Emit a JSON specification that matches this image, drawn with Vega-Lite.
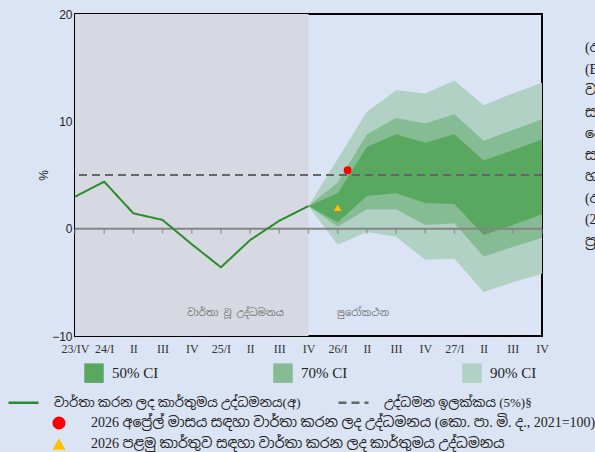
{
  "$schema": "https://vega.github.io/schema/vega-lite/v6.json",
  "width": 467,
  "height": 322,
  "autosize": {"type": "none"},
  "padding": {"left": 75, "top": 14, "right": 53, "bottom": 116},
  "background": "#dbe4f4",
  "config": {
    "view": {"stroke": "#000000", "strokeWidth": 2, "fill": "#dbe4f4"},
    "axis": {"domain": false, "grid": false, "ticks": false, "labelFlush": false, "labelOverlap": false},
    "axisX": {"labelFont": "Liberation Serif", "labelFontSize": 12, "labelColor": "#333333", "labelPadding": 7},
    "axisY": {"labelFont": "Liberation Sans", "labelFontSize": 12, "labelColor": "#222222", "labelPadding": 3, "titleFont": "Liberation Sans", "titleFontSize": 12, "titleFontWeight": "normal", "titleColor": "#222222", "titlePadding": 1},
    "legend": {"padding": 0, "labelLimit": 700, "titlePadding": 0}
  },
  "datasets": {
    "q": [
      {"q": 0, "actual": 2.98},
      {"q": 1, "actual": 4.38},
      {"q": 2, "actual": 1.43},
      {"q": 3, "actual": 0.81},
      {"q": 4, "actual": -1.45},
      {"q": 5, "actual": -3.6},
      {"q": 6, "actual": -1.06},
      {"q": 7, "actual": 0.74},
      {"q": 8, "actual": 2.11, "lo90": 2.11, "lo70": 2.11, "lo50": 2.11, "hi50": 2.11, "hi70": 2.11, "hi90": 2.11},
      {"q": 9, "lo90": -1.5, "lo70": 0.2, "lo50": 0.6, "hi50": 3.3, "hi70": 4.3, "hi90": 6.5},
      {"q": 10, "lo90": -0.3, "lo70": 1.8, "lo50": 3.05, "hi50": 7.6, "hi70": 8.8, "hi90": 10.9},
      {"q": 11, "lo90": -0.75, "lo70": 1.8, "lo50": 3.3, "hi50": 8.8, "hi70": 10.3, "hi90": 12.9},
      {"q": 12, "lo90": -2.9, "lo70": 0.35, "lo50": 2.4, "hi50": 8.0, "hi70": 9.8, "hi90": 12.6},
      {"q": 13, "lo90": -2.8, "lo70": 0.5, "lo50": 2.3, "hi50": 8.8, "hi70": 10.65, "hi90": 13.8},
      {"q": 14, "lo90": -5.9, "lo70": -2.6, "lo50": -0.6, "hi50": 6.35, "hi70": 8.2, "hi90": 11.5},
      {"q": 15, "lo90": -5.0, "lo70": -1.7, "lo50": 0.35, "hi50": 7.3, "hi70": 9.2, "hi90": 12.6},
      {"q": 16, "lo90": -4.2, "lo70": -0.84, "lo50": 1.34, "hi50": 8.3, "hi70": 10.2, "hi90": 13.6}
    ],
    "pts": [
      {"q": 9.34, "v": 5.45, "kind": "2026 අප්‍රේල් මාසය සඳහා වාර්තා කරන ලද උද්ධමනය (කො. පා. මි. ද., 2021=100)"},
      {"q": 9, "v": 1.96, "kind": "2026 පළමු කාර්තුව සඳහා වාර්තා කරන ලද කාර්තුමය උද්ධමනය"}
    ]
  },
  "layer": [
    {
      "data": {"values": [{}]},
      "mark": {"type": "rect", "fill": "#d6d9e2"},
      "encoding": {
        "x": {
          "datum": 0, "type": "quantitative",
          "scale": {"domain": [0, 16], "nice": false, "zero": false},
          "axis": {"title": null, "values": [0, 1, 2, 3, 4, 5, 6, 7, 8, 9, 10, 11, 12, 13, 14, 15, 16], "labelExpr": "['23/IV','24/I','II','III','IV','25/I','II','III','IV','26/I','II','III','IV','27/I','II','III','IV'][datum.value]"}
        },
        "x2": {"datum": 8}
      }
    },
    {
      "data": {"name": "q"},
      "transform": [{"filter": "isValid(datum.hi90)"}],
      "mark": {"type": "area", "opacity": 1},
      "encoding": {
        "x": {"field": "q", "type": "quantitative", "axis": {"title": null, "values": [0, 1, 2, 3, 4, 5, 6, 7, 8, 9, 10, 11, 12, 13, 14, 15, 16], "labelExpr": "['23/IV','24/I','II','III','IV','25/I','II','III','IV','26/I','II','III','IV','27/I','II','III','IV'][datum.value]"}},
        "y": {
          "field": "lo90", "type": "quantitative",
          "scale": {"domain": [-10, 20], "nice": false, "zero": false},
          "axis": {"title": "%", "values": [-10, 0, 10, 20]}
        },
        "y2": {"field": "hi90"},
        "fill": {
          "datum": "90% CI", "type": "nominal",
          "scale": {"domain": ["50% CI", "70% CI", "90% CI"], "range": ["#59a85f", "#85bc93", "#b0d1c4"]},
          "legend": {
            "orient": "none", "legendX": 9, "legendY": 349,
            "direction": "horizontal", "title": null,
            "symbolType": "square", "symbolSize": 380, "symbolStrokeWidth": 0, "symbolOpacity": 1,
            "labelFont": "Liberation Serif", "labelFontSize": 15, "labelColor": "#222222",
            "labelOffset": 8, "columnPadding": 114
          }
        }
      }
    },
    {
      "data": {"name": "q"},
      "transform": [{"filter": "isValid(datum.hi70)"}],
      "mark": {"type": "area", "opacity": 1},
      "encoding": {
        "x": {"field": "q", "type": "quantitative", "axis": {"title": null, "values": [0, 1, 2, 3, 4, 5, 6, 7, 8, 9, 10, 11, 12, 13, 14, 15, 16], "labelExpr": "['23/IV','24/I','II','III','IV','25/I','II','III','IV','26/I','II','III','IV','27/I','II','III','IV'][datum.value]"}},
        "y": {"field": "lo70", "type": "quantitative", "axis": {"title": "%", "values": [-10, 0, 10, 20]}},
        "y2": {"field": "hi70"},
        "fill": {"datum": "70% CI", "type": "nominal"}
      }
    },
    {
      "data": {"name": "q"},
      "transform": [{"filter": "isValid(datum.hi50)"}],
      "mark": {"type": "area", "opacity": 1},
      "encoding": {
        "x": {"field": "q", "type": "quantitative", "axis": {"title": null, "values": [0, 1, 2, 3, 4, 5, 6, 7, 8, 9, 10, 11, 12, 13, 14, 15, 16], "labelExpr": "['23/IV','24/I','II','III','IV','25/I','II','III','IV','26/I','II','III','IV','27/I','II','III','IV'][datum.value]"}},
        "y": {"field": "lo50", "type": "quantitative", "axis": {"title": "%", "values": [-10, 0, 10, 20]}},
        "y2": {"field": "hi50"},
        "fill": {"datum": "50% CI", "type": "nominal"}
      }
    },
    {
      "data": {"values": [{}]},
      "mark": {"type": "rule", "color": "#858585", "strokeWidth": 2},
      "encoding": {"y": {"datum": 0, "type": "quantitative", "axis": {"title": "%", "values": [-10, 0, 10, 20]}}}
    },
    {
      "data": {"name": "q"},
      "mark": {"type": "tick", "orient": "vertical", "color": "#858585", "size": 5, "thickness": 1.5, "yOffset": 2.5},
      "encoding": {
        "x": {"field": "q", "type": "quantitative", "axis": {"title": null, "values": [0, 1, 2, 3, 4, 5, 6, 7, 8, 9, 10, 11, 12, 13, 14, 15, 16], "labelExpr": "['23/IV','24/I','II','III','IV','25/I','II','III','IV','26/I','II','III','IV','27/I','II','III','IV'][datum.value]"}},
        "y": {"datum": 0, "type": "quantitative", "axis": {"title": "%", "values": [-10, 0, 10, 20]}}
      }
    },
    {
      "data": {"values": [{}]},
      "mark": {"type": "rule", "strokeWidth": 2},
      "encoding": {
        "y": {"datum": 5, "type": "quantitative", "axis": {"title": "%", "values": [-10, 0, 10, 20]}},
        "stroke": {
          "datum": "උද්ධමන ඉලක්කය (5%)§", "type": "nominal",
          "scale": {"domain": ["වාර්තා කරන ලද කාර්තුමය උද්ධමනය(අ)", "උද්ධමන ඉලක්කය (5%)§"], "range": ["#2b8c2b", "#666666"]},
          "legend": {
            "orient": "none", "legendX": -68, "legendY": 372,
            "direction": "horizontal", "title": null,
            "symbolType": "stroke", "symbolSize": 900, "symbolStrokeWidth": 2.5,
            "labelFont": "Liberation Serif, Noto Sans Sinhala", "labelFontSize": 13, "labelColor": "#222222",
            "labelOffset": 14, "columnPadding": 32
          }
        },
        "strokeDash": {
          "datum": "උද්ධමන ඉලක්කය (5%)§", "type": "nominal",
          "scale": {"domain": ["වාර්තා කරන ලද කාර්තුමය උද්ධමනය(අ)", "උද්ධමන ඉලක්කය (5%)§"], "range": [[1, 0], [8, 5]]},
          "legend": {
            "orient": "none", "legendX": -68, "legendY": 372,
            "direction": "horizontal", "title": null,
            "symbolType": "stroke", "symbolSize": 900, "symbolStrokeWidth": 2.5,
            "labelFont": "Liberation Serif, Noto Sans Sinhala", "labelFontSize": 13, "labelColor": "#222222",
            "labelOffset": 14, "columnPadding": 32
          }
        }
      }
    },
    {
      "data": {"name": "q"},
      "transform": [{"filter": "isValid(datum.actual)"}],
      "mark": {"type": "line", "strokeWidth": 2},
      "encoding": {
        "x": {"field": "q", "type": "quantitative", "axis": {"title": null, "values": [0, 1, 2, 3, 4, 5, 6, 7, 8, 9, 10, 11, 12, 13, 14, 15, 16], "labelExpr": "['23/IV','24/I','II','III','IV','25/I','II','III','IV','26/I','II','III','IV','27/I','II','III','IV'][datum.value]"}},
        "y": {"field": "actual", "type": "quantitative", "axis": {"title": "%", "values": [-10, 0, 10, 20]}},
        "stroke": {"datum": "වාර්තා කරන ලද කාර්තුමය උද්ධමනය(අ)", "type": "nominal"},
        "strokeDash": {"datum": "වාර්තා කරන ලද කාර්තුමය උද්ධමනය(අ)", "type": "nominal"}
      }
    },
    {
      "data": {"name": "pts"},
      "mark": {"type": "point", "filled": true, "opacity": 1, "size": 60},
      "encoding": {
        "x": {"field": "q", "type": "quantitative", "axis": {"title": null, "values": [0, 1, 2, 3, 4, 5, 6, 7, 8, 9, 10, 11, 12, 13, 14, 15, 16], "labelExpr": "['23/IV','24/I','II','III','IV','25/I','II','III','IV','26/I','II','III','IV','27/I','II','III','IV'][datum.value]"}},
        "y": {"field": "v", "type": "quantitative", "axis": {"title": "%", "values": [-10, 0, 10, 20]}},
        "color": {
          "field": "kind", "type": "nominal",
          "scale": {"domain": ["2026 අප්‍රේල් මාසය සඳහා වාර්තා කරන ලද උද්ධමනය (කො. පා. මි. ද., 2021=100)", "2026 පළමු කාර්තුව සඳහා වාර්තා කරන ලද කාර්තුමය උද්ධමනය"], "range": ["#ff0000", "#ffc000"]},
          "legend": {
            "orient": "none", "legendX": -23, "legendY": 402,
            "direction": "vertical", "title": null,
            "symbolSize": 170, "symbolStrokeWidth": 0,
            "labelFont": "Liberation Serif, Noto Sans Sinhala", "labelFontSize": 14, "labelColor": "#222222",
            "labelOffset": 25, "rowPadding": 7
          }
        },
        "shape": {
          "field": "kind", "type": "nominal",
          "scale": {"domain": ["2026 අප්‍රේල් මාසය සඳහා වාර්තා කරන ලද උද්ධමනය (කො. පා. මි. ද., 2021=100)", "2026 පළමු කාර්තුව සඳහා වාර්තා කරන ලද කාර්තුමය උද්ධමනය"], "range": ["circle", "triangle-up"]},
          "legend": {
            "orient": "none", "legendX": -23, "legendY": 402,
            "direction": "vertical", "title": null,
            "symbolSize": 170, "symbolStrokeWidth": 0,
            "labelFont": "Liberation Serif, Noto Sans Sinhala", "labelFontSize": 14, "labelColor": "#222222",
            "labelOffset": 25, "rowPadding": 7
          }
        }
      }
    },
    {
      "data": {"values": [{}]},
      "mark": {"type": "text", "text": "වාර්තා වූ උද්ධමනය", "font": "Noto Sans Sinhala, Liberation Serif", "fontSize": 10, "color": "#777777"},
      "encoding": {
        "x": {"datum": 5.5, "type": "quantitative", "axis": {"title": null, "values": [0, 1, 2, 3, 4, 5, 6, 7, 8, 9, 10, 11, 12, 13, 14, 15, 16], "labelExpr": "['23/IV','24/I','II','III','IV','25/I','II','III','IV','26/I','II','III','IV','27/I','II','III','IV'][datum.value]"}},
        "y": {"datum": -7.86, "type": "quantitative", "axis": {"title": "%", "values": [-10, 0, 10, 20]}}
      }
    },
    {
      "data": {"values": [{}]},
      "mark": {"type": "text", "text": "පුරෝකථන", "font": "Noto Sans Sinhala, Liberation Serif", "fontSize": 10, "color": "#777777"},
      "encoding": {
        "x": {"datum": 9.87, "type": "quantitative", "axis": {"title": null, "values": [0, 1, 2, 3, 4, 5, 6, 7, 8, 9, 10, 11, 12, 13, 14, 15, 16], "labelExpr": "['23/IV','24/I','II','III','IV','25/I','II','III','IV','26/I','II','III','IV','27/I','II','III','IV'][datum.value]"}},
        "y": {"datum": -7.86, "type": "quantitative", "axis": {"title": "%", "values": [-10, 0, 10, 20]}}
      }
    },
    {
      "data": {"values": [{}]},
      "mark": {
        "type": "text",
        "text": ["(අ) සංඛ්‍යාලේඛන", "(Base 2021=100)", "වාර්තා කරන ලද", "සංඛ්‍යා", "දෙපාර්තමේන්තුව", "සඳහා", "හා", "(අ) කාර්තුමය", "(2021=100)", "ප්‍රභවය"],
        "align": "left", "baseline": "top", "lineHeight": 21.5,
        "font": "Liberation Serif, Noto Sans Sinhala", "fontSize": 14, "color": "#222222"
      },
      "encoding": {
        "x": {"datum": 17.47, "type": "quantitative", "axis": {"title": null, "values": [0, 1, 2, 3, 4, 5, 6, 7, 8, 9, 10, 11, 12, 13, 14, 15, 16], "labelExpr": "['23/IV','24/I','II','III','IV','25/I','II','III','IV','26/I','II','III','IV','27/I','II','III','IV'][datum.value]"}},
        "y": {"datum": 17.48, "type": "quantitative", "axis": {"title": "%", "values": [-10, 0, 10, 20]}}
      }
    }
  ]
}
